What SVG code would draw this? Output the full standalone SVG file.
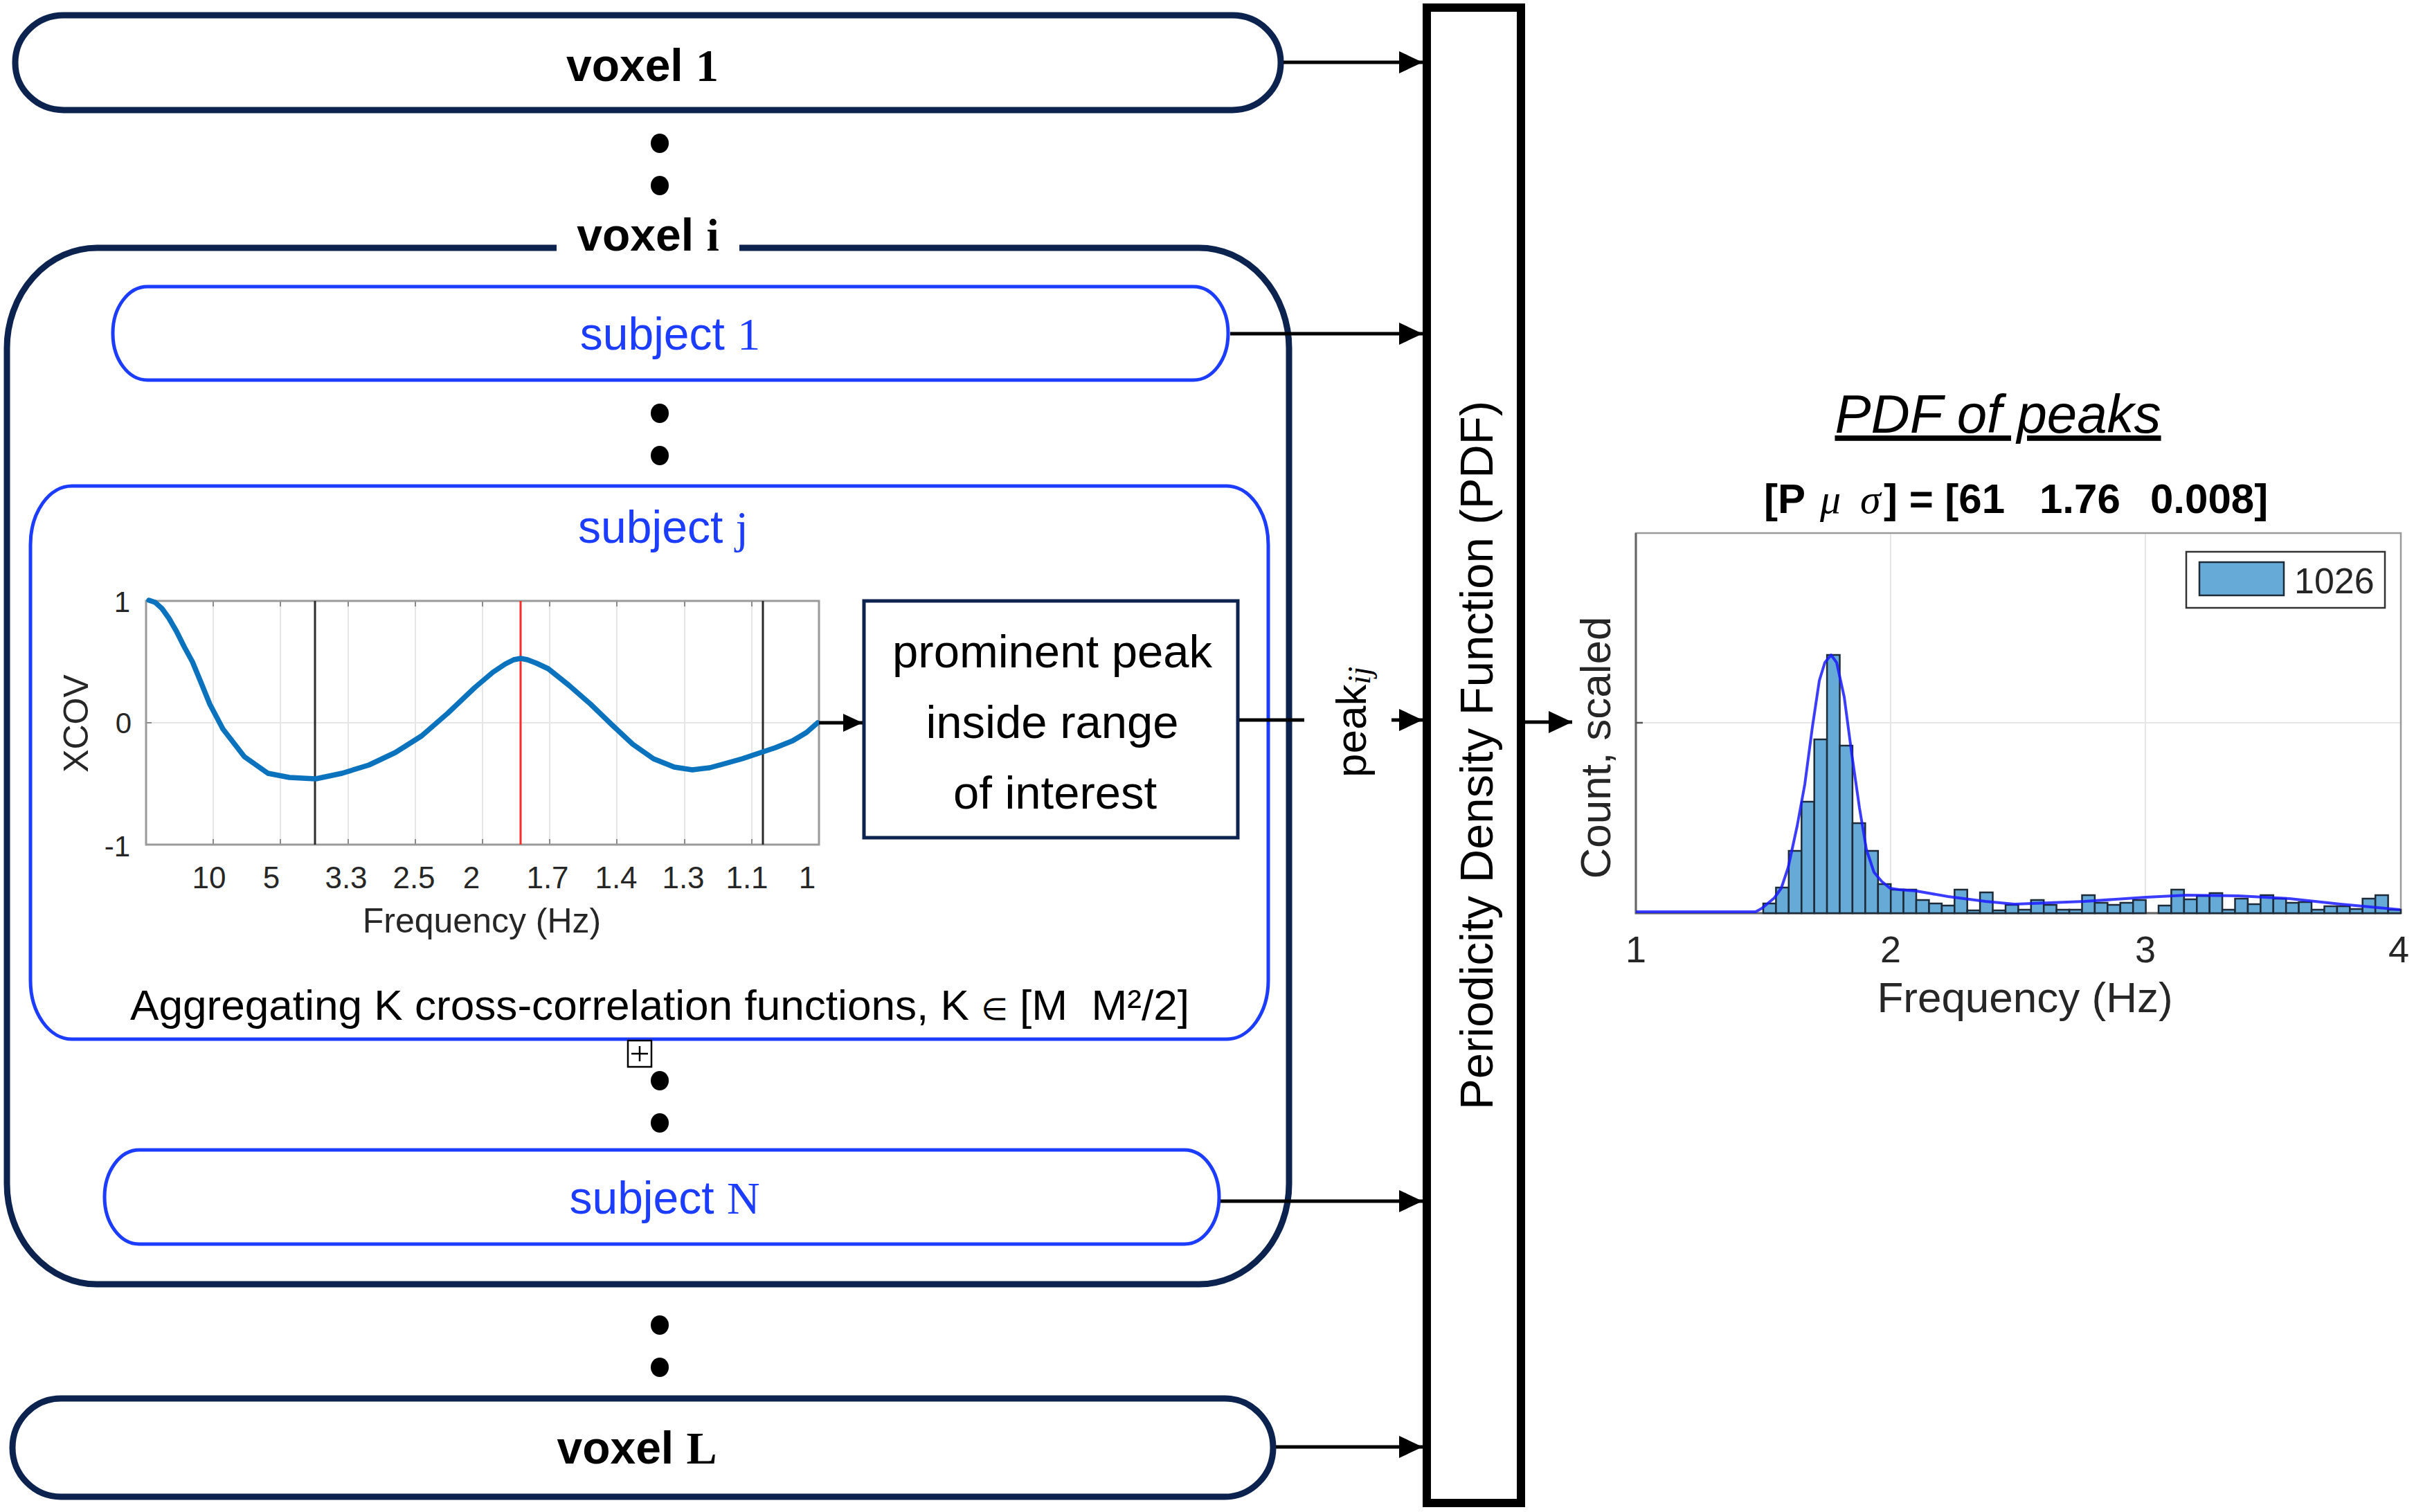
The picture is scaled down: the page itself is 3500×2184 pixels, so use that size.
<svg xmlns="http://www.w3.org/2000/svg" width="3500" height="2184" viewBox="0 0 3500 2184">
<defs>
<style>
text { font-family: "Liberation Sans", Arial, sans-serif; }
.sr { font-family: "Liberation Serif", "Times New Roman", serif; }
.vox { fill: #fff; stroke: #0c2350; stroke-width: 9; }
.subj { fill: #fff; stroke: #1c3cff; stroke-width: 5; }
.voxt { font-size: 66px; font-weight: bold; fill: #000; text-anchor: middle; }
.subt { font-size: 66px; fill: #1c3cff; text-anchor: middle; }
.dot { fill: #000; }
.conn { stroke: #000; stroke-width: 5; fill: none; }
.tick { font-size: 44px; fill: #262626; text-anchor: middle; }
.htick { font-size: 54px; fill: #262626; text-anchor: middle; }
.ytick { font-size: 42px; fill: #262626; text-anchor: end; }
.grid { stroke: #e6e6e6; stroke-width: 2; fill: none; }
.bar { fill: #66aad7; stroke: #1e2b38; stroke-width: 2.5; }
.lbl { font-size: 62px; fill: #262626; text-anchor: middle; }
</style>
<marker id="arr" markerUnits="userSpaceOnUse" markerWidth="34" markerHeight="32" refX="34" refY="16" orient="auto">
<path d="M0,0 L34,16 L0,32 Z" fill="#000"/>
</marker>
<marker id="arrs" markerUnits="userSpaceOnUse" markerWidth="28" markerHeight="26" refX="28" refY="13" orient="auto">
<path d="M0,0 L28,13 L0,26 Z" fill="#000"/>
</marker>
</defs>
<rect x="0" y="0" width="3500" height="2184" fill="#fff"/>

<g id="voxel-1">
<rect class="vox" x="22" y="22" width="1828" height="137" rx="70" ry="68"/>
<text class="voxt" x="928" y="117">voxel <tspan class="sr">1</tspan></text>
</g>

<g id="dots-voxel-top">
<ellipse class="dot" cx="953" cy="207" rx="13" ry="14"/>
<ellipse class="dot" cx="953" cy="268" rx="13" ry="14"/>
</g>

<g id="voxel-i">
<rect class="vox" x="10" y="358" width="1852" height="1497" rx="130" ry="145" stroke-width="10"/>
<rect x="804" y="340" width="264" height="32" fill="#fff"/>
<text class="voxt" x="936" y="362">voxel <tspan class="sr">i</tspan></text>
</g>

<g id="subject-1">
<rect class="subj" x="163" y="414" width="1611" height="135" rx="50" ry="67"/>
<text class="subt" x="968" y="505">subject <tspan class="sr">1</tspan></text>
</g>

<g id="dots-subject-top">
<ellipse class="dot" cx="953" cy="597" rx="13" ry="14"/>
<ellipse class="dot" cx="953" cy="658" rx="13" ry="14"/>
</g>

<g id="subject-j">
<rect class="subj" x="44" y="702" width="1788" height="799" rx="60" ry="85"/>
<text class="subt" x="958" y="784">subject <tspan class="sr">j</tspan></text>
<g id="xcov-plot">
<rect x="211" y="868" width="972" height="352" fill="#fff"/>
<path class="grid" d="M308,868V1220 M405,868V1220 M503,868V1220 M600,868V1220 M697,868V1220 M794,868V1220 M891,868V1220 M989,868V1220 M1086,868V1220 M211,1044H1183"/>
<path d="M308,868v8 M405,868v8 M503,868v8 M600,868v8 M697,868v8 M794,868v8 M891,868v8 M989,868v8 M1086,868v8 M308,1220v-8 M405,1220v-8 M503,1220v-8 M600,1220v-8 M697,1220v-8 M794,1220v-8 M891,1220v-8 M989,1220v-8 M1086,1220v-8 M211,1044h8" stroke="#8a8a8a" stroke-width="2" fill="none"/>
<rect x="211" y="868" width="972" height="352" fill="none" stroke="#9a9a9a" stroke-width="3"/>
<line x1="455" y1="868" x2="455" y2="1220" stroke="#2a2a2a" stroke-width="3"/>
<line x1="1102" y1="868" x2="1102" y2="1220" stroke="#2a2a2a" stroke-width="3"/>
<line x1="752" y1="868" x2="752" y2="1220" stroke="#ff2a2a" stroke-width="3"/>
<polyline fill="none" stroke="#0b72bd" stroke-width="7.5" stroke-linejoin="round" stroke-linecap="round" points="215,867 224,870 234,879 244,893 255,912 266,934 278,956 290,985 303,1017 322,1053 353,1093 387,1117 418,1123 456,1125 494,1117 533,1105 571,1087 609,1063 647,1030 686,993 712,971 730,959 742,953 752,951 762,953 775,958 792,966 822,990 853,1017 884,1047 914,1075 944,1096 974,1108 1000,1112 1025,1109 1047,1103 1072,1096 1096,1088 1120,1080 1145,1070 1165,1058 1181,1044"/>
<text class="ytick" x="188" y="884">1</text>
<text class="ytick" x="190" y="1059">0</text>
<text class="ytick" x="188" y="1237">-1</text>
<text class="tick" x="302" y="1283">10</text>
<text class="tick" x="392" y="1283">5</text>
<text class="tick" x="500" y="1283">3.3</text>
<text class="tick" x="598" y="1283">2.5</text>
<text class="tick" x="681" y="1283">2</text>
<text class="tick" x="791" y="1283">1.7</text>
<text class="tick" x="890" y="1283">1.4</text>
<text class="tick" x="987" y="1283">1.3</text>
<text class="tick" x="1079" y="1283">1.1</text>
<text class="tick" x="1166" y="1283">1</text>
<text x="696" y="1347" font-size="50" fill="#262626" text-anchor="middle">Frequency (Hz)</text>
<text transform="translate(127,1045) rotate(-90)" font-size="50" fill="#262626" text-anchor="middle">XCOV</text>
</g>
<text x="188" y="1473" font-size="62" fill="#000" textLength="1530" lengthAdjust="spacingAndGlyphs" xml:space="preserve">Aggregating K cross-correlation functions, K <tspan font-family="'DejaVu Sans', sans-serif" font-size="44">∈</tspan> [M  M²/2]</text>
</g>

<g id="prominent-peak">
<rect x="1248" y="868" width="540" height="342" fill="#fff" stroke="#0c2350" stroke-width="5"/>
<text x="1520" y="964" font-size="67" text-anchor="middle">prominent peak</text>
<text x="1520" y="1066" font-size="67" text-anchor="middle">inside range</text>
<text x="1524" y="1168" font-size="67" text-anchor="middle">of interest</text>
</g>

<g id="collapse-icon">
<rect x="907" y="1503" width="34" height="38" fill="#fff" stroke="#000" stroke-width="2.5"/>
<path d="M912,1522H936 M924,1511V1533" stroke="#000" stroke-width="2.5"/>
</g>

<g id="dots-subject-bottom">
<ellipse class="dot" cx="953" cy="1561" rx="13" ry="14"/>
<ellipse class="dot" cx="953" cy="1622" rx="13" ry="14"/>
</g>

<g id="subject-N">
<rect class="subj" x="151" y="1661" width="1610" height="136" rx="50" ry="68"/>
<text class="subt" x="960" y="1753">subject <tspan class="sr">N</tspan></text>
</g>

<g id="dots-voxel-bottom">
<ellipse class="dot" cx="953" cy="1914" rx="13" ry="14"/>
<ellipse class="dot" cx="953" cy="1975" rx="13" ry="14"/>
</g>

<g id="voxel-L">
<rect class="vox" x="18" y="2020" width="1821" height="142" rx="70" ry="71"/>
<text class="voxt" x="920" y="2114">voxel <tspan class="sr">L</tspan></text>
</g>

<g id="pdf-block">
<rect x="2061" y="11" width="136" height="2160" fill="#fff" stroke="#000" stroke-width="12"/>
<text transform="translate(2156,1091) rotate(-90)" font-size="67" fill="#000" text-anchor="middle">Periodicity Density Function (PDF)</text>
</g>

<g id="peak-label">
<text transform="translate(1973,1043) rotate(-90)" font-size="62" fill="#000" text-anchor="middle">peak<tspan class="sr" font-style="italic" font-size="46" dy="6">ij</tspan></text>
</g>

<g id="histogram">
<text x="2886" y="625" font-size="78" font-style="italic" text-decoration="underline" text-anchor="middle" fill="#000">PDF of peaks</text>
<text y="741" font-size="60" font-weight="bold" fill="#000" xml:space="preserve"><tspan x="2548">[P</tspan><tspan x="2629" class="sr" font-style="italic" font-weight="normal">μ</tspan><tspan x="2687" class="sr" font-style="italic" font-weight="normal">σ</tspan><tspan x="2721">] = [61</tspan><tspan x="2946">1.76</tspan><tspan x="3106">0.008]</tspan></text>
<rect x="2363" y="770" width="1105" height="549" fill="#fff"/>
<path class="grid" d="M2731,770V1319 M3099,770V1319 M2363,1044H3468"/>
<rect x="2363" y="770" width="1105" height="549" fill="none" stroke="#9a9a9a" stroke-width="2.5"/>
<path d="M2363,770V1319H3468" fill="none" stroke="#666" stroke-width="3"/>
<path d="M2363,1044h10 M2731,1319v-10 M3099,1319v-10" stroke="#555" stroke-width="2.5"/>
<g id="bars">
<rect class="bar" x="2547.0" y="1305" width="18.4" height="14"/>
<rect class="bar" x="2565.4" y="1282" width="18.4" height="37"/>
<rect class="bar" x="2583.8" y="1229" width="18.4" height="90"/>
<rect class="bar" x="2602.3" y="1158" width="18.4" height="161"/>
<rect class="bar" x="2620.7" y="1068" width="18.4" height="251"/>
<rect class="bar" x="2639.1" y="946" width="18.4" height="373"/>
<rect class="bar" x="2657.5" y="1077" width="18.4" height="242"/>
<rect class="bar" x="2675.9" y="1189" width="18.4" height="130"/>
<rect class="bar" x="2694.4" y="1229" width="18.4" height="90"/>
<rect class="bar" x="2712.8" y="1277" width="18.4" height="42"/>
<rect class="bar" x="2731.2" y="1285" width="18.4" height="34"/>
<rect class="bar" x="2749.6" y="1285" width="18.4" height="34"/>
<rect class="bar" x="2768.0" y="1300" width="18.4" height="19"/>
<rect class="bar" x="2786.5" y="1305" width="18.4" height="14"/>
<rect class="bar" x="2804.9" y="1308" width="18.4" height="11"/>
<rect class="bar" x="2823.3" y="1285" width="18.4" height="34"/>
<rect class="bar" x="2841.7" y="1315" width="18.4" height="4"/>
<rect class="bar" x="2860.1" y="1289" width="18.4" height="30"/>
<rect class="bar" x="2878.6" y="1315" width="18.4" height="4"/>
<rect class="bar" x="2897.0" y="1307" width="18.4" height="12"/>
<rect class="bar" x="2915.4" y="1314" width="18.4" height="5"/>
<rect class="bar" x="2933.8" y="1300" width="18.4" height="19"/>
<rect class="bar" x="2952.2" y="1307" width="18.4" height="12"/>
<rect class="bar" x="2970.7" y="1314" width="18.4" height="5"/>
<rect class="bar" x="2989.1" y="1314" width="18.4" height="5"/>
<rect class="bar" x="3007.5" y="1293" width="18.4" height="26"/>
<rect class="bar" x="3025.9" y="1304" width="18.4" height="15"/>
<rect class="bar" x="3044.3" y="1307" width="18.4" height="12"/>
<rect class="bar" x="3062.8" y="1304" width="18.4" height="15"/>
<rect class="bar" x="3081.2" y="1300" width="18.4" height="19"/>
<rect class="bar" x="3118.0" y="1308" width="18.4" height="11"/>
<rect class="bar" x="3136.4" y="1285" width="18.4" height="34"/>
<rect class="bar" x="3154.9" y="1299" width="18.4" height="20"/>
<rect class="bar" x="3173.3" y="1294" width="18.4" height="25"/>
<rect class="bar" x="3191.7" y="1290" width="18.4" height="29"/>
<rect class="bar" x="3210.1" y="1314" width="18.4" height="5"/>
<rect class="bar" x="3228.5" y="1298" width="18.4" height="21"/>
<rect class="bar" x="3247.0" y="1306" width="18.4" height="13"/>
<rect class="bar" x="3265.4" y="1293" width="18.4" height="26"/>
<rect class="bar" x="3283.8" y="1298" width="18.4" height="21"/>
<rect class="bar" x="3302.2" y="1304" width="18.4" height="15"/>
<rect class="bar" x="3320.6" y="1303" width="18.4" height="16"/>
<rect class="bar" x="3339.1" y="1314" width="18.4" height="5"/>
<rect class="bar" x="3357.5" y="1309" width="18.4" height="10"/>
<rect class="bar" x="3375.9" y="1309" width="18.4" height="10"/>
<rect class="bar" x="3394.3" y="1313" width="18.4" height="6"/>
<rect class="bar" x="3412.7" y="1298" width="18.4" height="21"/>
<rect class="bar" x="3431.2" y="1293" width="18.4" height="26"/>
<rect class="bar" x="3449.6" y="1314" width="18.4" height="5"/>
</g>
<polyline fill="none" stroke="#1a1aff" stroke-opacity="0.85" stroke-width="4" stroke-linejoin="round" points="2363,1317 2536,1317 2545,1312 2563,1297 2573,1283 2583,1253 2596,1193 2607,1133 2618,1050 2628,983 2636,957 2645,946 2653,957 2664,1007 2675,1090 2686,1167 2696,1227 2707,1260 2718,1273 2730,1283 2743,1285 2768,1287 2814,1295 2868,1302 2910,1306 3011,1302 3100,1296 3159,1293 3233,1294 3307,1298 3381,1306 3467,1314"/>
<rect x="3158" y="797" width="287" height="81" fill="#fff" stroke="#333" stroke-width="2.5"/>
<rect x="3177" y="812" width="122" height="48" fill="#66aad7" stroke="#1e2b38" stroke-width="2.5"/>
<text x="3314" y="857" font-size="52" fill="#262626">1026</text>
<text class="htick" x="2363" y="1390">1</text>
<text class="htick" x="2731" y="1390">2</text>
<text class="htick" x="3099" y="1390">3</text>
<text class="htick" x="3465" y="1390">4</text>
<text class="lbl" x="2925" y="1462">Frequency (Hz)</text>
<text class="lbl" transform="translate(2326,1080) rotate(-90)">Count, scaled</text>
</g>

<g id="connectors">
<line class="conn" x1="1854" y1="90" x2="2055" y2="90" marker-end="url(#arr)"/>
<line class="conn" x1="1777" y1="482" x2="2055" y2="482" marker-end="url(#arr)"/>
<line class="conn" x1="1183" y1="1044" x2="1246" y2="1044" marker-end="url(#arrs)"/>
<line class="conn" x1="1790" y1="1040" x2="1884" y2="1040"/>
<line class="conn" x1="2010" y1="1040" x2="2055" y2="1040" marker-end="url(#arr)"/>
<line class="conn" x1="1763" y1="1735" x2="2055" y2="1735" marker-end="url(#arr)"/>
<line class="conn" x1="1843" y1="2090" x2="2055" y2="2090" marker-end="url(#arr)"/>
<line class="conn" x1="2203" y1="1043" x2="2271" y2="1043" marker-end="url(#arr)"/>
</g>
</svg>
